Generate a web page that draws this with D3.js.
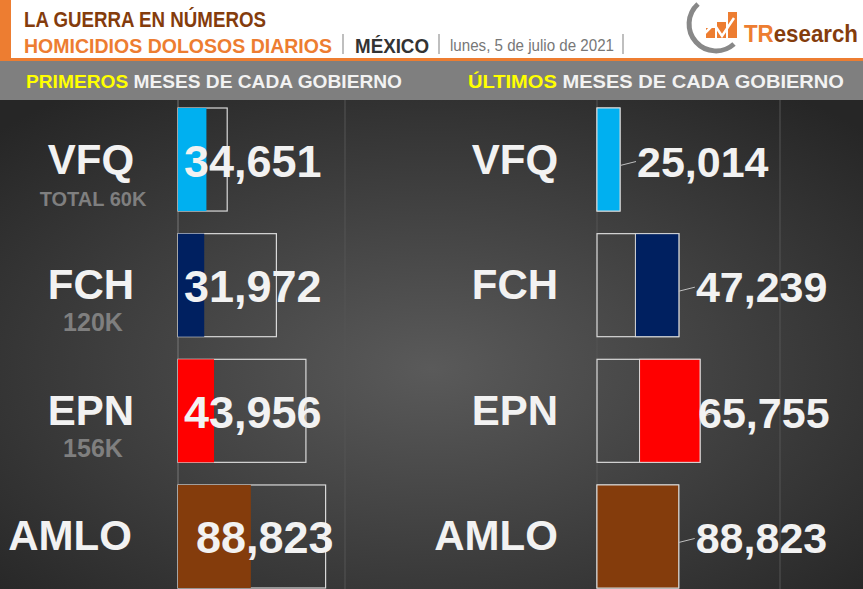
<!DOCTYPE html>
<html><head><meta charset="utf-8">
<script src="https://d3js.org/d3.v7.min.js"></script>
<style>body{margin:0;background:#fff}svg{display:block}</style>
</head><body>
<script>
// data
var names = ["VFQ", "FCH", "EPN", "AMLO"];
var totalLabels = ["TOTAL 60K", "120K", "156K", ""];
var firstValues = [34651, 31972, 43956, 88823];
var firstTotals = [60000, 120000, 156000, 180000];
var lastValues = [25014, 47239, 65755, 88823];
var lastTotals = [25014, 89000, 112000, 88823];
var colors = ["#00b0f0", "#002060", "#ff0000", "#843c0c"];

var width = 863, height = 589;
var svg = d3.select("body").append("svg").attr("width", width).attr("height", height);

var defs = svg.append("defs");
var grad = defs.append("radialGradient").attr("id", "bg").attr("cx", "50%").attr("cy", "55%").attr("r", "70%");
grad.append("stop").attr("offset", "0%").attr("stop-color", "#5a5a5a");
grad.append("stop").attr("offset", "100%").attr("stop-color", "#262626");

// header
svg.append("rect").attr("width", width).attr("height", 60).attr("fill", "#fff");
svg.append("rect").attr("x", 0).attr("y", 0).attr("width", 11).attr("height", 58).attr("fill", "#ed7d31");
svg.append("rect").attr("x", 0).attr("y", 58).attr("width", width).attr("height", 3).attr("fill", "#ed7d31");
svg.append("rect").attr("x", 0).attr("y", 61).attr("width", width).attr("height", 39).attr("fill", "#7f7f7f");
svg.append("rect").attr("x", 0).attr("y", 100).attr("width", width).attr("height", 489).attr("fill", "url(#bg)");

var sans = "'Liberation Sans',Arial,sans-serif";
function hd(x, yy, txt, len, size, fill, bold) {
  svg.append("text").attr("x", x).attr("y", yy).attr("font-family", sans).attr("font-weight", bold ? "bold" : "normal")
    .attr("font-size", size).attr("fill", fill).attr("textLength", len).attr("lengthAdjust", "spacingAndGlyphs").text(txt);
}
function sep(x) {
  svg.append("line").attr("x1", x).attr("x2", x).attr("y1", 34).attr("y2", 54).attr("stroke", "#aaa").attr("stroke-width", 1.5);
}
hd(24, 27, "LA GUERRA EN NÚMEROS", 242, 22, "#843c0c", true);
hd(24, 53, "HOMICIDIOS DOLOSOS DIARIOS", 308, 20.5, "#ed7d31", true);
sep(343);
hd(355, 53, "MÉXICO", 74, 21, "#333", true);
sep(439);
hd(450, 51, "lunes, 5 de julio de 2021", 164, 16, "#777", false);
sep(623);

// logo
var lg = svg.append("g").attr("transform", "translate(720,22)");
lg.append("path").attr("d", "M-22,-18 A26,26 0 1,0 14,22").attr("fill", "none").attr("stroke", "#888").attr("stroke-width", 5);
[[-14, 6, 10], [-3, 0, 16], [8, -10, 26]].forEach(function (b) {
  lg.append("rect").attr("x", b[0]).attr("y", b[1]).attr("width", 9).attr("height", b[2]).attr("fill", "#ed7d31");
});
lg.append("path").attr("d", "M-16,12 L-6,2 L2,14 L14,-4").attr("fill", "none").attr("stroke", "#fff").attr("stroke-width", 2.5);
var lt = svg.append("text").attr("x", 744).attr("y", 42).attr("font-family", sans)
  .attr("font-weight", "bold").attr("font-size", 24).attr("textLength", 114).attr("lengthAdjust", "spacingAndGlyphs");
lt.append("tspan").attr("fill", "#ed7d31").text("TR");
lt.append("tspan").attr("fill", "#843c0c").text("esearch");

// section headings
[[26, "PRIMEROS"], [468, "ÚLTIMOS"]].forEach(function (h) {
  var t = svg.append("text").attr("x", h[0]).attr("y", 88).attr("font-family", sans).attr("font-weight", "bold")
    .attr("font-size", 18.5).attr("textLength", 376).attr("lengthAdjust", "spacingAndGlyphs");
  t.append("tspan").attr("fill", "#ffff00").text(h[1]);
  t.append("tspan").attr("fill", "#f2f2f2").text(" MESES DE CADA GOBIERNO");
});

// faint grid lines
[345, 780].forEach(function (x) {
  svg.append("line").attr("x1", x).attr("x2", x).attr("y1", 100).attr("y2", height).attr("stroke", "#555").attr("stroke-width", 1);
});

var y = d3.scaleBand().domain(names).range([108, 588]).paddingInner(0.18).paddingOuter(0.0);
var xL = d3.scaleLinear().domain([0, 100000]).range([178, 260]);
var xR = d3.scaleLinear().domain([0, 100000]).range([597, 689]);

svg.append("line").attr("x1", 178).attr("x2", 178).attr("y1", 100).attr("y2", height).attr("stroke", "#777");
svg.append("line").attr("x1", 597).attr("x2", 597).attr("y1", 100).attr("y2", height).attr("stroke", "#555");

var fmt = d3.format(",");

// left panel
names.forEach(function (n, i) {
  var y0 = y(n), h = y.bandwidth(), cy = y0 + h / 2;
  svg.append("rect").attr("x", xL(0)).attr("y", y0).attr("width", xL(firstTotals[i]) - xL(0)).attr("height", h)
    .attr("fill", "none").attr("stroke", "#d9d9d9").attr("stroke-width", 1.2);
  svg.append("rect").attr("x", xL(0)).attr("y", y0).attr("width", xL(firstValues[i]) - xL(0)).attr("height", h)
    .attr("fill", colors[i]);
  svg.append("text").attr("x", i === 3 ? 70 : 91).attr("y", cy + 14).attr("text-anchor", "middle")
    .attr("font-family", sans).attr("font-weight", "bold").attr("font-size", 42).attr("fill", "#f2f2f2").text(n);
  if (totalLabels[i]) svg.append("text").attr("x", 93).attr("y", cy + 46).attr("text-anchor", "middle")
    .attr("font-family", sans).attr("font-weight", "bold").attr("font-size", i === 0 ? 20 : 25).attr("fill", "#7f7f7f").text(totalLabels[i]);
  svg.append("text").attr("x", i === 3 ? 196 : 184).attr("y", cy + 17).attr("font-family", sans).attr("font-weight", "bold")
    .attr("font-size", 45).attr("fill", "#f2f2f2").text(fmt(firstValues[i]));
});

// right panel
names.forEach(function (n, i) {
  var y0 = y(n), h = y.bandwidth(), cy = y0 + h / 2;
  var xe = xR(lastTotals[i]);
  svg.append("rect").attr("x", xR(0)).attr("y", y0).attr("width", xe - xR(0)).attr("height", h)
    .attr("fill", "none").attr("stroke", "#d9d9d9").attr("stroke-width", 1.2);
  svg.append("rect").attr("x", xe - (xR(lastValues[i]) - xR(0))).attr("y", y0).attr("width", xR(lastValues[i]) - xR(0)).attr("height", h)
    .attr("fill", colors[i]).attr("stroke", "#d9d9d9").attr("stroke-width", 1);
  svg.append("text").attr("x", i === 3 ? 496 : 515).attr("y", cy + 14).attr("text-anchor", "middle")
    .attr("font-family", sans).attr("font-weight", "bold").attr("font-size", 42).attr("fill", "#f2f2f2").text(n);
  svg.append("line").attr("x1", xe).attr("x2", xe + 16).attr("y1", cy + 6).attr("y2", cy + 2).attr("stroke", "#bfbfbf");
  svg.append("text").attr("x", i === 2 ? xe - 2 : xe + 17).attr("y", cy + 17).attr("font-family", sans).attr("font-weight", "bold")
    .attr("font-size", 43).attr("fill", "#f2f2f2").text(fmt(lastValues[i]));
});
</script>
</body></html>
